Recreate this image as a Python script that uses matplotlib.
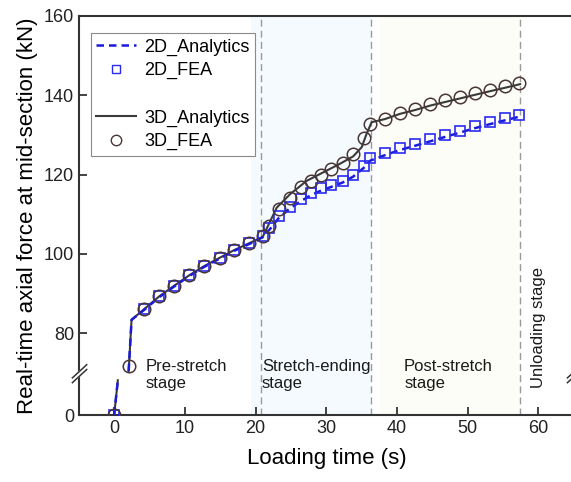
import numpy as np
import matplotlib
matplotlib.use("Agg")
import matplotlib.pyplot as plt
from matplotlib.lines import Line2D
from matplotlib.transforms import blended_transform_factory

plt.rcParams['font.family'] = ['Liberation Sans', 'DejaVu Sans']

# 2D model: FEA samples and analytic curve (kN)
t_fea_2d = [0, 4.25, 6.37, 8.5, 10.6, 12.7, 14.9, 17.0, 19.1, 21.1,
            21.9, 23.3, 24.8, 26.4, 27.8, 29.3, 30.7, 32.3, 33.8, 35.3, 36.2,
            38.3, 40.4, 42.6, 44.7, 46.8, 48.9, 51.0, 53.1, 55.3, 57.3]
f_fea_2d = [0, 86.1, 89.3, 92.0, 94.6, 96.9, 99.0, 101.0, 102.7, 104.5,
            106.6, 109.6, 111.9, 113.8, 115.3, 116.5, 117.3, 118.4, 119.9, 122.2, 124.1,
            125.4, 126.7, 127.8, 128.9, 130.0, 131.1, 132.2, 133.2, 134.2, 135.1]

t_ana_2d = [0, 0.52, np.nan, 2.05, 2.46, 4.25, 6.37, 8.5, 10.6, 12.7, 14.9, 17.0, 19.1, 21.0,
            22.0, 23.3, 24.8, 26.4, 27.8, 29.3, 30.7, 32.3, 33.8, 35.3, 36.2,
            38.3, 40.4, 42.6, 44.7, 46.8, 48.9, 51.0, 53.1, 55.3, 57.3]
f_ana_2d = [0, 17.5, np.nan, 70.5, 83.4, 85.9, 89.1, 91.8, 94.4, 96.7, 98.8, 100.8, 102.5, 104.2,
            106.2, 109.1, 111.4, 113.3, 114.8, 116.0, 116.9, 118.0, 119.5, 121.7, 123.5,
            124.9, 126.2, 127.3, 128.4, 129.5, 130.6, 131.7, 132.7, 133.7, 134.6]

# 3D model: FEA samples and analytic curve (kN)
t_fea_3d = [0, 2.1, 4.25, 6.37, 8.5, 10.6, 12.7, 14.9, 17.0, 19.1, 21.1,
            21.9, 23.3, 24.8, 26.4, 27.8, 29.3, 30.7, 32.3, 33.8, 35.3, 36.2,
            38.3, 40.4, 42.6, 44.7, 46.8, 48.9, 51.0, 53.1, 55.3, 57.3]
f_fea_3d = [0, 71.8, 86.1, 89.3, 92.0, 94.6, 96.9, 99.0, 101.0, 102.7, 104.5,
            107.0, 111.4, 114.0, 116.8, 118.4, 119.9, 121.4, 122.9, 125.2, 129.2, 132.8,
            134.1, 135.6, 136.6, 137.8, 138.7, 139.5, 140.5, 141.3, 142.3, 143.2]

t_ana_3d = [0, 0.52, np.nan, 2.05, 2.46, 4.25, 6.37, 8.5, 10.6, 12.7, 14.9, 17.0, 19.1, 21.0,
            23.0, 24.9, 27.2, 29.6, 31.9, 33.8, 35.0, 35.7, 36.4,
            38.3, 40.4, 42.6, 44.7, 46.8, 48.9, 51.0, 53.1, 55.3, 57.4]
f_ana_3d = [0, 17.5, np.nan, 70.5, 83.4, 86.1, 89.3, 92.0, 94.6, 96.9, 99.0, 101.0, 102.7, 104.3,
            111.7, 115.1, 118.4, 120.6, 122.7, 124.6, 126.9, 130.3, 133.2,
            134.0, 135.3, 136.3, 137.4, 138.3, 139.2, 140.1, 141.0, 141.9, 142.8]

# stage boundaries (s)
stage_bounds = [20.8, 36.3, 57.4]
stage_names = ["Pre-stretch\nstage", "Stretch-ending\nstage", "Post-stretch\nstage"]
stage_text_x = [4.5, 20.9, 41.0]

yticks = [0, 80, 100, 120, 140, 160]

# broken y axis: 0-18 squeezed under the 70-160 range
_src = [-100, 0, 18, 70, 1000]
_dst = [9.4, 59.4, 68.4, 70, 1000]


def fwd(v):
    return np.interp(v, _src, _dst)


def inv(v):
    return np.interp(v, _dst, _src)


fig = plt.figure(figsize=(5.71, 4.82), dpi=100)
ax = fig.add_axes([0.138, 0.139, 0.867, 0.828])
ax.set_yscale('function', functions=(fwd, inv))
ax.set_xlim(-5, 65)
ax.set_ylim(0, 160)

ax.axvspan(19.4, stage_bounds[1], color='#f5fafe', lw=0, zorder=0)
ax.axvspan(37.6, stage_bounds[2], color='#fdfdf7', lw=0, zorder=0)
for xb in stage_bounds:
    ax.axvline(xb, color='#9a9a9a', ls=(0, (5, 3)), lw=1, zorder=1)

blue = '#1a1adb'
ax.plot(t_ana_3d, f_ana_3d, '-', color='#3a3a3a', lw=1.5, zorder=3)
ax.plot(t_ana_2d, f_ana_2d, '--', color=blue, lw=1.8, dashes=(3, 2), zorder=4)
ax.plot(t_fea_2d, f_fea_2d, 's', mfc='none', mec='#2a2af0', mew=1.2, ms=7.5, zorder=5)
ax.plot(t_fea_3d, f_fea_3d, 'o', mfc='none', mec='#4a3535', mew=1.1, ms=9, zorder=5)

tr = blended_transform_factory(ax.transData, ax.transAxes)
for xt, name in zip(stage_text_x, stage_names):
    ax.text(xt, 0.100, name, transform=tr, fontsize=12, ha='left', va='center',
            linespacing=1.2, color='#1a1a1a')
ax.text(60.0, 0.068, "Unloading stage", transform=tr, fontsize=12, rotation=90,
        ha='center', va='bottom', color='#1a1a1a')

ax.set_yticks(yticks)
ax.set_xticks([0, 10, 20, 30, 40, 50, 60])
ax.minorticks_off()
ax.tick_params(direction='in', length=6, width=1.2, labelsize=13, top=False, right=False,
               colors='#222222')
for s in ['left', 'bottom', 'top']:
    ax.spines[s].set_linewidth(1.5)
    ax.spines[s].set_color('#333333')
ax.spines['right'].set_visible(False)

ax.set_xlabel("Loading time (s)", fontsize=16, labelpad=8)
ax.set_ylabel("Real-time axial force at mid-section (kN)", fontsize=16, labelpad=4)

# axis break marks
for xa in [0.0, 1.0]:
    ax.fill([xa - 0.012, xa + 0.015, xa + 0.015, xa - 0.012],
            [0.082, 0.113, 0.125, 0.094], transform=ax.transAxes,
            color='white', clip_on=False, zorder=6)
    for dy in [0.0, 0.012]:
        ax.plot([xa - 0.013, xa + 0.016], [0.081 + dy, 0.114 + dy], transform=ax.transAxes,
                color='#333333', lw=1.1, clip_on=False, zorder=7)

handles = [
    Line2D([], [], ls='--', color=blue, lw=1.8, dashes=(3, 2)),
    Line2D([], [], ls='none', marker='s', mfc='none', mec='#2a2af0', mew=1.0, ms=6),
    Line2D([], [], ls='none'),
    Line2D([], [], ls='-', color='#3a3a3a', lw=1.5),
    Line2D([], [], ls='none', marker='o', mfc='none', mec='#4a3535', mew=1.0, ms=7.5),
]
labels = ["2D_Analytics", "2D_FEA", "", "3D_Analytics", "3D_FEA"]
leg = ax.legend(handles, labels, loc='upper left', bbox_to_anchor=(0.0245, 0.957),
                borderaxespad=0, fontsize=13, handlelength=2.2, handletextpad=0.45,
                borderpad=0.3, labelspacing=0.36, fancybox=False, framealpha=1)
leg.get_frame().set_edgecolor('#8a8a8a')
leg.get_frame().set_linewidth(0.8)

fig.savefig("out.png", dpi=100)
